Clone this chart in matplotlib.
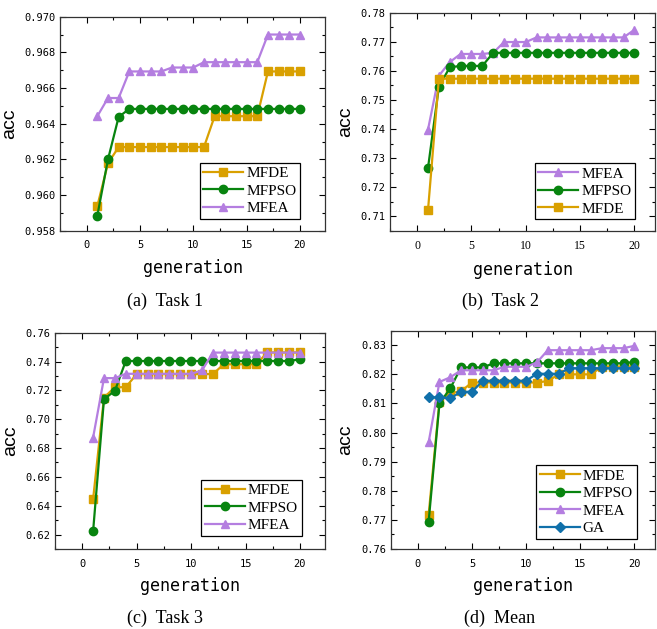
import matplotlib
matplotlib.use('Agg')
import matplotlib.pyplot as plt
from matplotlib.ticker import MultipleLocator, FormatStrFormatter

# generations
gen = list(range(1, 21))

# (a) Task 1
t1_mfde = [0.95938, 0.96178, 0.96269, 0.96269, 0.96269, 0.96269, 0.96269, 0.96269, 0.96269, 0.96269,
           0.96269, 0.96442, 0.96442, 0.96442, 0.96442, 0.96442, 0.96693, 0.96693, 0.96693, 0.96693]
t1_mfpso = [0.95884, 0.96200, 0.96438, 0.96483, 0.96483, 0.96483, 0.96483, 0.96483, 0.96483, 0.96483,
            0.96483, 0.96483, 0.96483, 0.96483, 0.96483, 0.96483, 0.96483, 0.96483, 0.96483, 0.96483]
t1_mfea = [0.96442, 0.96544, 0.96544, 0.96693, 0.96693, 0.96693, 0.96693, 0.96715, 0.96715, 0.96715,
           0.96745, 0.96745, 0.96745, 0.96745, 0.96745, 0.96745, 0.96900, 0.96900, 0.96900, 0.96900]

# (b) Task 2
t2_mfea = [0.7398, 0.7583, 0.7630, 0.7658, 0.7658, 0.7658, 0.7662, 0.7699, 0.7699, 0.7699,
           0.7715, 0.7715, 0.7715, 0.7715, 0.7715, 0.7715, 0.7715, 0.7715, 0.7715, 0.7741]
t2_mfpso = [0.7266, 0.7545, 0.7612, 0.7617, 0.7617, 0.7617, 0.7662, 0.7662, 0.7662, 0.7662,
            0.7662, 0.7662, 0.7662, 0.7662, 0.7662, 0.7662, 0.7662, 0.7662, 0.7662, 0.7662]
t2_mfde = [0.7121, 0.7573, 0.7573, 0.7573, 0.7573, 0.7573, 0.7573, 0.7573, 0.7573, 0.7573,
           0.7573, 0.7573, 0.7573, 0.7573, 0.7573, 0.7573, 0.7573, 0.7573, 0.7573, 0.7573]

# (c) Task 3
t3_mfde = [0.6445, 0.7150, 0.7222, 0.7222, 0.7313, 0.7313, 0.7313, 0.7313, 0.7313, 0.7313,
           0.7313, 0.7313, 0.7381, 0.7381, 0.7381, 0.7381, 0.7463, 0.7463, 0.7463, 0.7463]
t3_mfpso = [0.6223, 0.7140, 0.7196, 0.7404, 0.7404, 0.7404, 0.7404, 0.7404, 0.7404, 0.7404,
            0.7404, 0.7404, 0.7404, 0.7404, 0.7404, 0.7404, 0.7404, 0.7404, 0.7404, 0.7415]
t3_mfea = [0.6873, 0.7285, 0.7285, 0.7315, 0.7315, 0.7315, 0.7315, 0.7315, 0.7315, 0.7315,
           0.7338, 0.7462, 0.7462, 0.7462, 0.7462, 0.7462, 0.7462, 0.7462, 0.7462, 0.7462]

# (d) Mean
t4_mfde = [0.7717, 0.8106, 0.8135, 0.8142, 0.8172, 0.8172, 0.8172, 0.8172, 0.8172, 0.8172,
           0.8172, 0.8177, 0.8200, 0.8200, 0.8200, 0.8200, 0.8227, 0.8227, 0.8227, 0.8227]
t4_mfpso = [0.7693, 0.8100, 0.8152, 0.8224, 0.8224, 0.8224, 0.8238, 0.8238, 0.8238, 0.8238,
            0.8238, 0.8238, 0.8238, 0.8238, 0.8238, 0.8238, 0.8238, 0.8238, 0.8238, 0.8243]
t4_mfea = [0.7966, 0.8174, 0.8190, 0.8214, 0.8214, 0.8214, 0.8214, 0.8226, 0.8226, 0.8226,
           0.8241, 0.8283, 0.8283, 0.8283, 0.8283, 0.8283, 0.8290, 0.8290, 0.8290, 0.8298]
t4_ga = [0.8121, 0.8121, 0.8118, 0.8140, 0.8140, 0.8178, 0.8178, 0.8178, 0.8178, 0.8178,
         0.8202, 0.8202, 0.8202, 0.8221, 0.8221, 0.8221, 0.8221, 0.8221, 0.8221, 0.8221]

captions = ['(a)  Task 1', '(b)  Task 2', '(c)  Task 3', '(d)  Mean']

styles = {
    'MFDE': dict(color='#D9A000', marker='s'),
    'MFPSO': dict(color='#08840F', marker='o'),
    'MFEA': dict(color='#B47EE0', marker='^'),
    'GA': dict(color='#1070AA', marker='D', markersize=5.5),
}

W, H = 657, 629
MONO = 'DejaVu Sans Mono'
SERIF = 'Liberation Serif'
SANS = 'Liberation Sans'


def px_box(l, t, r, b):
    return [l / W, 1 - b / H, (r - l) / W, (b - t) / H]


def panel(fig, box, series, ylim, ystep, yminor, yfmt, xmax, legend_anchor, serif_x=False):
    ax = fig.add_axes(px_box(*box))
    for name, vals in series:
        st = dict(lw=1.6, markersize=6)
        st.update(styles[name])
        ax.plot(gen, vals, label=name, **st)

    ax.set_xlim(-2.5, xmax)
    ax.set_ylim(*ylim)
    ax.xaxis.set_major_locator(MultipleLocator(5))
    ax.xaxis.set_minor_locator(MultipleLocator(2.5))
    ax.yaxis.set_major_locator(MultipleLocator(ystep))
    ax.yaxis.set_minor_locator(MultipleLocator(yminor))
    ax.yaxis.set_major_formatter(FormatStrFormatter(yfmt))
    ax.tick_params(which='both', direction='in', top=True, right=True, width=0.8)
    ax.tick_params(which='major', length=4)
    ax.tick_params(which='minor', length=2)
    ax.tick_params(axis='x', pad=7)
    ax.tick_params(axis='y', pad=3)
    for sp in ax.spines.values():
        sp.set_linewidth(0.9)
        sp.set_color('#333333')

    for lab in ax.get_yticklabels():
        lab.set_family(MONO)
        lab.set_fontsize(7.5)
    for lab in ax.get_xticklabels():
        lab.set_family(SERIF if serif_x else MONO)
        lab.set_fontsize(8.5 if serif_x else 7.5)

    ax.set_xlabel('generation', family=MONO, fontsize=12, labelpad=6)
    ax.set_ylabel('acc', family=SANS, fontsize=14, labelpad=5)

    leg = ax.legend(loc='lower right', bbox_to_anchor=legend_anchor,
                    prop={'family': SERIF, 'size': 11}, fancybox=False,
                    edgecolor='black', framealpha=1, borderpad=0.25,
                    handlelength=2.6, handletextpad=0.2, labelspacing=0.25,
                    borderaxespad=0)
    leg.get_frame().set_linewidth(0.9)
    return ax


fig = plt.figure(figsize=(W / 100, H / 100), dpi=100)

panel(fig, (60, 16.7, 325, 230.7),
      [('MFDE', t1_mfde), ('MFPSO', t1_mfpso), ('MFEA', t1_mfea)],
      (0.958, 0.970), 0.002, 0.001, '%.3f', 22.35, (0.906, 0.055))

panel(fig, (390, 12.7, 655, 230.7),
      [('MFEA', t2_mfea), ('MFPSO', t2_mfpso), ('MFDE', t2_mfde)],
      (0.705, 0.78), 0.01, 0.005, '%.2f', 21.9, (0.925, 0.052), serif_x=True)

panel(fig, (55, 332.7, 325, 549),
      [('MFDE', t3_mfde), ('MFPSO', t3_mfpso), ('MFEA', t3_mfea)],
      (0.61, 0.76), 0.02, 0.01, '%.2f', 22.3, (0.914, 0.06))

panel(fig, (390.7, 330.7, 655, 549),
      [('MFDE', t4_mfde), ('MFPSO', t4_mfpso), ('MFEA', t4_mfea), ('GA', t4_ga)],
      (0.76, 0.835), 0.01, 0.005, '%.2f', 21.9, (0.931, 0.046))

cap_pos = [(165, 301), (500, 301), (165, 618), (500, 618)]
for (cx, cy), txt in zip(cap_pos, captions):
    fig.text(cx / W, 1 - cy / H, txt, ha='center', va='center', family=SERIF, fontsize=13)

plt.savefig('out.png', dpi=100)
